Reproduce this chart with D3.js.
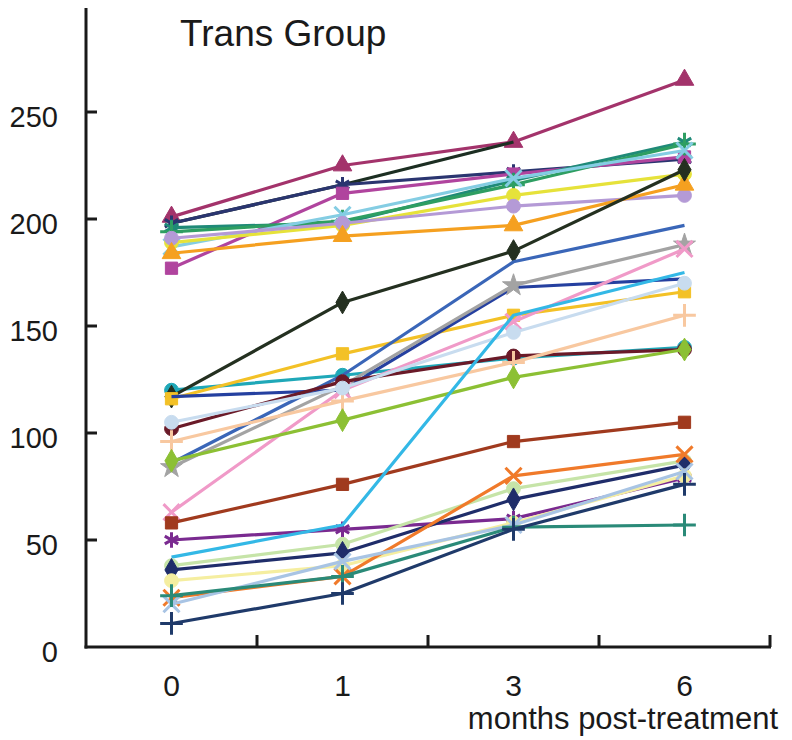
<!DOCTYPE html>
<html>
<head>
<meta charset="utf-8">
<script src="https://cdn.jsdelivr.net/npm/d3@7"></script>
<style>
  body { margin: 0; background: #fff; }
  text { font-family: "Liberation Sans", Arial, sans-serif; fill: #1a1a1a; }
</style>
</head>
<body>
<svg id="svg" width="792" height="740"></svg>
<script>
var months = ["0", "1", "3", "6"];
var yTicks = [0, 50, 100, 150, 200, 250];

// one row per patient: values at 0, 1, 3, 6 months
var seriesValues = [
  [201, 225, 236, 265],
  [198, 216, 236, null],
  [198, 216, 222, 228],
  [177, 212, 221, 229],
  [196, 198, 218, 236],
  [194, 199, 216, 235],
  [187, 202, 219, 232],
  [189, 197, 211, 221],
  [191, 198, 206, 211],
  [184, 192, 197, 216],
  [120, 127, 135, 140],
  [117, 161, 185, 223],
  [116, 137, 155, 166],
  [117, 120, 168, 172],
  [86, 127, 180, 197],
  [84, 122, 169, 188],
  [63, 120, 152, 186],
  [102, 124, 136, 139],
  [96, 115, 133, 155],
  [105, 121, 147, 170],
  [87, 106, 126, 139],
  [58, 76, 96, 105],
  [50, 55, 60, 79],
  [42, 57, 155, 175],
  [38, 48, 74, 87],
  [36, 44, 69, 85],
  [31, 38, 58, 80],
  [23, 33, 80, 90],
  [20, 40, 57, 82],
  [24, 33, 56, 57],
  [11, 25, 55, 76]
];

var seriesColors = [
  "#a3336b", "#1c2e22", "#2a3570", "#b0449e", "#1f8a78", "#2e9e62",
  "#84cde3", "#e6e23a", "#b49ad6", "#f5a020",
  "#1fa8b8", "#243020", "#f3c126", "#2540a0", "#3a66b8", "#a3a3a3",
  "#f09ac8", "#6a1a28", "#f8c8a0", "#c8dcef", "#8cc034",
  "#a03a1e", "#7a2a90", "#33b8e6", "#c6e4a8", "#1f2d6a", "#f5eea0",
  "#f07a2a", "#a8c4e4", "#2a8a78", "#1f3a6a"
];

var seriesMarkers = [
  "triangle", "none", "asterisk", "square", "asterisk", "plus",
  "times", "circle", "circle", "triangle",
  "circle", "diamond", "square", "none", "none", "star",
  "times", "circle", "plus", "circle", "diamond",
  "square", "asterisk", "none", "circle", "diamond", "circle",
  "times", "times", "plus", "plus"
];

var svg = d3.select("#svg"),
    width = +svg.attr("width"),
    height = +svg.attr("height");

var x = d3.scaleBand()
    .domain(months)
    .range([86, 770]);

var cx = function(m) { return x(m) + x.bandwidth() / 2; };

var y = d3.scaleLinear()
    .domain([0, 300])
    .range([647, 5]);

var symbolTypes = {
  triangle: d3.symbolTriangle,
  square: d3.symbolSquare,
  diamond: d3.symbolDiamond,
  circle: d3.symbolCircle,
  star: d3.symbolStar,
  plus: d3.symbolPlus || d3.symbolCross,
  times: d3.symbolTimes || d3.symbolCross,
  asterisk: d3.symbolAsterisk || d3.symbolWye
};
var strokeMarkers = { plus: true, times: true, asterisk: true };

// axes
svg.append("line")
    .attr("x1", 86).attr("x2", 86)
    .attr("y1", y(0) + 1.5).attr("y2", 8)
    .attr("stroke", "#1a1a1a")
    .attr("stroke-width", 3);

svg.append("line")
    .attr("x1", 84.5).attr("x2", 771)
    .attr("y1", y(0)).attr("y2", y(0))
    .attr("stroke", "#1a1a1a")
    .attr("stroke-width", 3);

var yAxis = svg.append("g").attr("class", "y-axis");

yAxis.selectAll("line")
    .data(yTicks.filter(function(d) { return d > 0; }))
  .enter().append("line")
    .attr("x1", 86).attr("x2", 97)
    .attr("y1", function(d) { return y(d); })
    .attr("y2", function(d) { return y(d); })
    .attr("stroke", "#1a1a1a")
    .attr("stroke-width", 3);

yAxis.selectAll("text")
    .data(yTicks)
  .enter().append("text")
    .attr("x", 58)
    .attr("y", function(d) { return y(d); })
    .attr("dy", "0.52em")
    .attr("text-anchor", "end")
    .attr("font-size", 29)
    .text(function(d) { return d; });

var xAxis = svg.append("g").attr("class", "x-axis");

xAxis.selectAll("line")
    .data(months)
  .enter().append("line")
    .attr("x1", function(d) { return x(d) + x.bandwidth(); })
    .attr("x2", function(d) { return x(d) + x.bandwidth(); })
    .attr("y1", y(0))
    .attr("y2", y(0) - 12)
    .attr("stroke", "#1a1a1a")
    .attr("stroke-width", 3);

xAxis.selectAll("text")
    .data(months)
  .enter().append("text")
    .attr("x", cx)
    .attr("y", 696)
    .attr("text-anchor", "middle")
    .attr("font-size", 30)
    .text(function(d) { return d; });

svg.append("text")
    .attr("x", 778)
    .attr("y", 729)
    .attr("text-anchor", "end")
    .attr("font-size", 31)
    .text("months post-treatment");

svg.append("text")
    .attr("x", 180)
    .attr("y", 46)
    .attr("font-size", 37)
    .text("Trans Group");

// series
var line = d3.line()
    .defined(function(d) { return d.v != null; })
    .x(function(d) { return cx(d.m); })
    .y(function(d) { return y(d.v); });

var series = svg.append("g")
    .attr("class", "series")
  .selectAll("g")
  .data(seriesValues.map(function(vals, i) {
      return {
        color: seriesColors[i],
        marker: seriesMarkers[i],
        points: vals.map(function(v, j) { return { m: months[j], v: v }; })
      };
    }))
  .enter().append("g");

series.append("path")
    .attr("fill", "none")
    .attr("stroke", function(d) { return d.color; })
    .attr("stroke-width", 3.2)
    .attr("stroke-linejoin", "round")
    .attr("d", function(d) { return line(d.points); });

series.each(function(s) {
  if (s.marker === "none") return;
  var isStroke = strokeMarkers[s.marker];
  var sym = d3.symbol().type(symbolTypes[s.marker]).size(isStroke ? 170 : 150);
  d3.select(this).selectAll(".mark")
      .data(s.points.filter(function(p) { return p.v != null; }))
    .enter().append("path")
      .attr("class", "mark")
      .attr("transform", function(p) { return "translate(" + cx(p.m) + "," + y(p.v) + ")"; })
      .attr("d", sym)
      .attr("fill", isStroke ? "none" : s.color)
      .attr("stroke", s.color)
      .attr("stroke-width", isStroke ? 3 : 1);
});
</script>
</body>
</html>
